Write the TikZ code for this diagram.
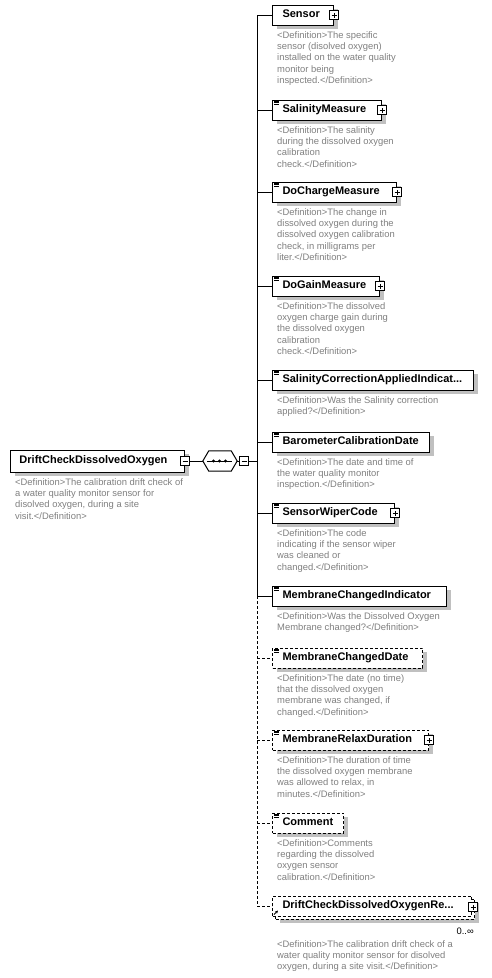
\documentclass[tikz,border=0pt]{standalone}
\usepackage{fontspec}
\setmainfont{Liberation Sans}
\usetikzlibrary{shadows,arrows.meta}
\definecolor{defgray}{RGB}{128,128,128}
\definecolor{shadowgray}{RGB}{192,192,192}
\newcommand{\elem}[5][]{\node[elem,#1] (#2) at (272,#3) {\makebox[#4pt][l]{\hspace{10pt}\strut#5}};}
\newcommand{\tbars}[1]{\foreach \dy in {1.6,3.1,4.6}{\draw[line width=0.6pt] ([shift={(2,\dy)}]#1.north west) -- ++(5,0);}}
\newcommand{\defn}[3]{\node[defnode] (#1) at (277,#2) {#3};}
\begin{document}
\begin{tikzpicture}[x=1pt,y=-1pt,
  elembase/.style={draw, line width=1pt, fill=white, inner sep=0pt, minimum height=20pt, anchor=west,
    font=\fontsize{11}{13}\selectfont\bfseries},
  elem/.style={elembase, drop shadow={shadow xshift=4pt, shadow yshift=-4pt, opacity=1, fill=shadowgray, draw=none}},
  opt/.style={dash pattern=on 3pt off 2pt},
  defnode/.style={anchor=north west, inner sep=0pt, align=left, text=defgray, font=\fontsize{9.4}{11.2}\selectfont},
  plusbox/.style={draw, line width=1pt, fill=white, minimum size=9pt, inner sep=0pt,
    path picture={\draw[line width=1pt] ([xshift=2pt]path picture bounding box.west) -- ([xshift=-2pt]path picture bounding box.east);
      \draw[line width=1pt] ([yshift=2pt]path picture bounding box.south) -- ([yshift=-2pt]path picture bounding box.north);}},
  minusbox/.style={draw, line width=1pt, fill=white, minimum size=9pt, inner sep=0pt,
    path picture={\draw[line width=1pt] ([xshift=2pt]path picture bounding box.west) -- ([xshift=-2pt]path picture bounding box.east);}},
  conn/.style={line width=1pt}
]
\useasboundingbox (0,0) rectangle (491,978);
\fill[white] (0,0) rectangle (491,978);

% spine coordinate
\coordinate (spine) at (257,461);

% root
\node[elem, minimum height=22pt] (root) at (10,461) {\makebox[174pt][l]{\hspace{9pt}\strut DriftCheckDissolvedOxygen}};
\node[minusbox] (rootM) at (root.east) {};
\node[defnode] (rootDef) at (15,478.5) {<Definition>The calibration drift check of\\a water quality monitor sensor for\\disolved oxygen, during a site\\visit.</Definition>};

% compositor
\node[minimum width=34pt, minimum height=20pt, inner sep=0pt] (seq) at (220,461) {};
\draw[line width=1pt, fill=white] (seq.west) -- ([xshift=6pt]seq.north west) -- ([xshift=-6pt]seq.north east) -- (seq.east) -- ([xshift=-6pt]seq.south east) -- ([xshift=6pt]seq.south west) -- cycle;
\draw[line width=0.8pt] ([xshift=-13pt]seq.center) -- ([xshift=12pt]seq.center);
\fill ([xshift=-6.5pt]seq.center) circle (1.6pt);
\fill ([xshift=-0.5pt]seq.center) circle (1.6pt);
\fill ([xshift=5.5pt]seq.center) circle (1.6pt);
\node[minusbox] (seqM) at (244,461) {};

\draw[conn] (rootM) -- (seq);
\draw[conn] (seq) -- (seqM);
\draw[conn] (seqM) -- (spine);

% children
\elem{sensor}{15}{61}{Sensor}
\elem{sal}{110}{109}{SalinityMeasure}
\elem{doc}{192}{124}{DoChargeMeasure}
\elem{dog}{286}{107}{DoGainMeasure}
\elem{salc}{380}{201}{SalinityCorrectionAppliedIndicat...}
\elem{baro}{442}{157}{BarometerCalibrationDate}
\elem{wiper}{513}{122}{SensorWiperCode}
\elem{mci}{596}{174}{MembraneChangedIndicator}
\elem[opt]{mcd}{658}{150}{MembraneChangedDate}
\elem[opt]{mrd}{740}{156}{MembraneRelaxDuration}
\elem[opt]{comm}{823}{71}{Comment}

% bottom (repeated reference element)
\node[elem, opt] (driftBack) at (275,909) {\makebox[199pt]{\strut}};
\node[elembase, opt] (drift) at (272,906) {\makebox[199pt][l]{\hspace{10pt}\strut DriftCheckDissolvedOxygenRe...}};
\draw[line width=0.8pt,-{Stealth[length=3pt,width=3pt]}] ([shift={(2,-2)}]drift.south west) -- ++(4,-4);
\node[anchor=east, inner sep=0pt, font=\fontsize{9.4}{11}\selectfont] (occ) at (474,931) {0..∞};

% tree bars
\tbars{sal}\tbars{doc}\tbars{dog}\tbars{salc}\tbars{baro}\tbars{wiper}\tbars{mci}\tbars{mcd}\tbars{mrd}\tbars{comm}

% expanders
\node[plusbox] (sensorP) at (sensor.east) {};
\node[plusbox] (salP) at (sal.east) {};
\node[plusbox] (docP) at (doc.east) {};
\node[plusbox] (dogP) at (dog.east) {};
\node[plusbox] (wiperP) at (wiper.east) {};
\node[plusbox] (mrdP) at (mrd.east) {};
\node[plusbox] (driftP) at ([shift={(1,1)}]drift.east) {};

% spine and branches
\draw[conn] (spine |- sensor.west) -- (spine |- mci.west);
\draw[conn,opt] (spine |- mci.west) -- (spine |- drift.west);
\foreach \n in {sensor,sal,doc,dog,salc,baro,wiper,mci}{\draw[conn] (spine |- \n.west) -- (\n.west);}
\foreach \n in {mcd,mrd,comm,drift}{\draw[conn,opt] (spine |- \n.west) -- (\n.west);}

% definitions
\defn{sensorDef}{31.5}{<Definition>The specific\\sensor (disolved oxygen)\\installed on the water quality\\monitor being\\inspected.</Definition>}
\defn{salDef}{126.5}{<Definition>The salinity\\during the dissolved oxygen\\calibration\\check.</Definition>}
\defn{docDef}{208.5}{<Definition>The change in\\dissolved oxygen during the\\dissolved oxygen calibration\\check, in milligrams per\\liter.</Definition>}
\defn{dogDef}{302.5}{<Definition>The dissolved\\oxygen charge gain during\\the dissolved oxygen\\calibration\\check.</Definition>}
\defn{salcDef}{396.5}{<Definition>Was the Salinity correction\\applied?</Definition>}
\defn{baroDef}{458.5}{<Definition>The date and time of\\the water quality monitor\\inspection.</Definition>}
\defn{wiperDef}{529.5}{<Definition>The code\\indicating if the sensor wiper\\was cleaned or\\changed.</Definition>}
\defn{mciDef}{612.5}{<Definition>Was the Dissolved Oxygen\\Membrane changed?</Definition>}
\defn{mcdDef}{674.5}{<Definition>The date (no time)\\that the dissolved oxygen\\membrane was changed, if\\changed.</Definition>}
\defn{mrdDef}{756.5}{<Definition>The duration of time\\the dissolved oxygen membrane\\was allowed to relax, in\\minutes.</Definition>}
\defn{commDef}{839.5}{<Definition>Comments\\regarding the dissolved\\oxygen sensor\\calibration.</Definition>}
\defn{driftDef}{940.5}{<Definition>The calibration drift check of a\\water quality monitor sensor for disolved\\oxygen, during a site visit.</Definition>}
\end{tikzpicture}
\end{document}
